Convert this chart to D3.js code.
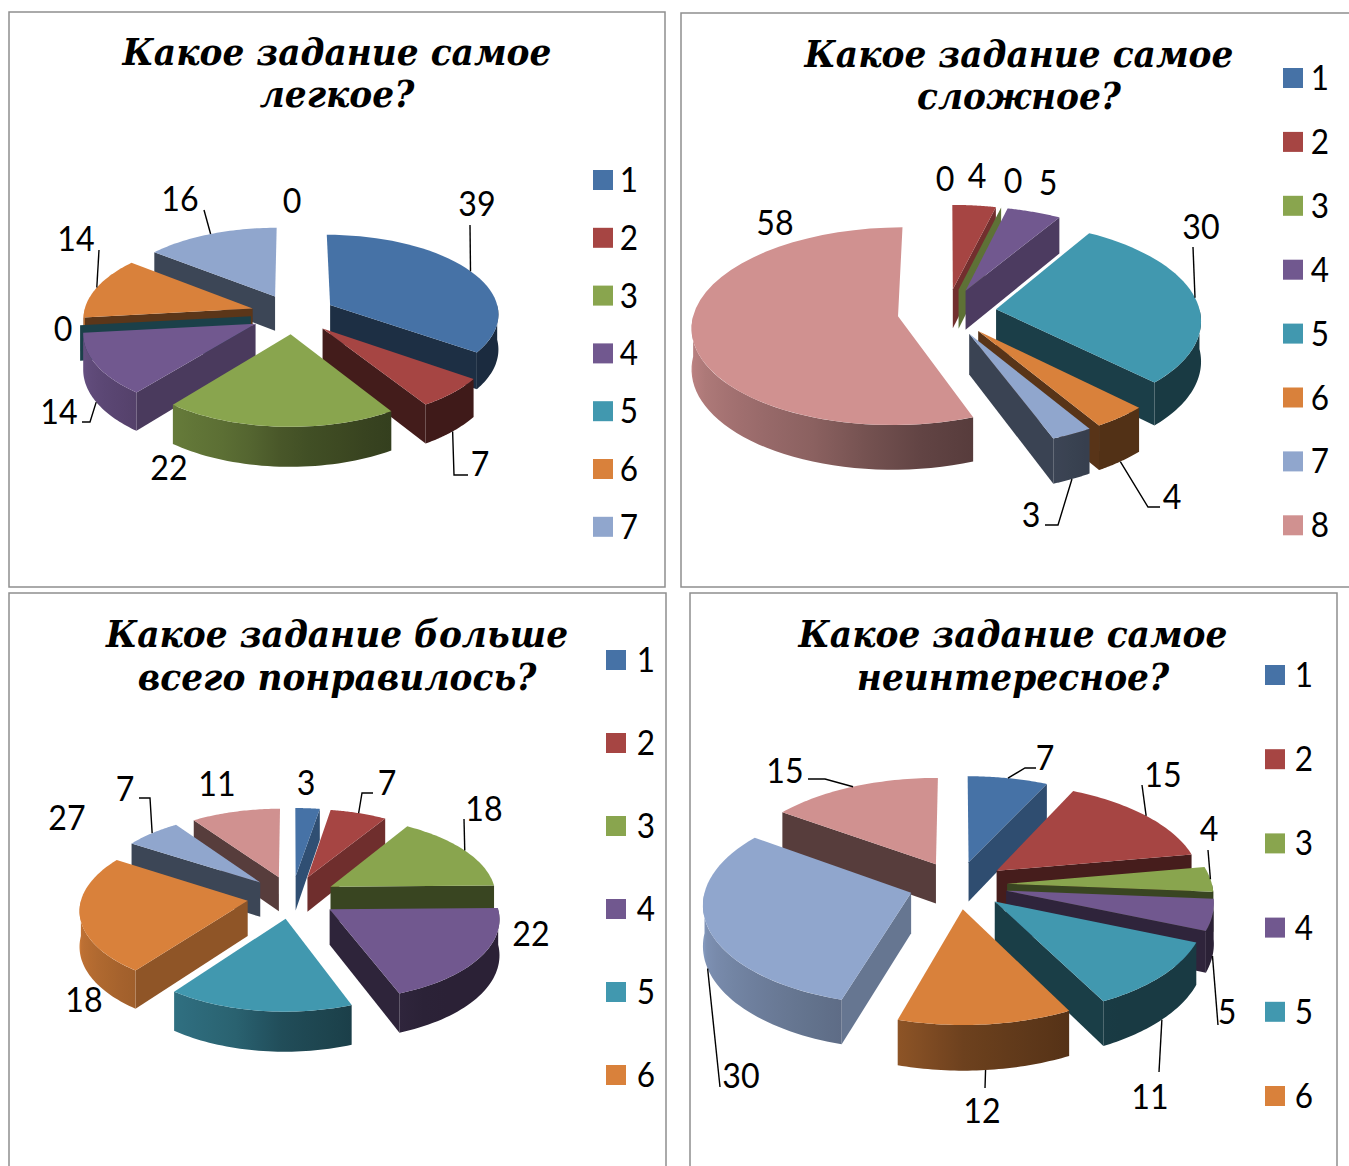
<!DOCTYPE html>
<html>
<head>
    <meta charset="utf-8">
    <title>Какое задание</title>
    <script src="https://d3js.org/d3.v7.min.js"></script>
    <style type="text/css">
        body { margin: 0; background: #fff; }
        .title { font-family: "DejaVu Serif", serif; font-weight: bold; font-style: italic; font-size: 37px; fill: #000; }
        .lab { font-family: Lato, sans-serif; font-size: 35px; fill: #000; }
        .frame { fill: none; stroke: #8e8e8e; stroke-width: 1.5; }
        .leader { fill: none; stroke: #000; stroke-width: 1.4; }
    </style>
</head>
<body>
<script>
    const colors = ["#4672A6", "#A64543", "#89A54E", "#71588F", "#4198AF", "#D9813B", "#90A6CD", "#D09190"]

    // values, in slice order clockwise from the top
    const easiestValues = [39, 7, 22, 14, 0, 14, 16, 0]
    const hardestValues = [0, 4, 0, 5, 30, 4, 3, 58]
    const likedValues = [3, 7, 18, 22, 18, 27, 7, 11]
    const boringValues = [7, 15, 4, 5, 11, 12, 30, 15]

    const easiestTitle = ["Какое задание самое", "легкое?"]
    const hardestTitle = ["Какое задание самое", "сложное?"]
    const likedTitle = ["Какое задание больше", "всего понравилось?"]
    const boringTitle = ["Какое задание самое", "неинтересное?"]

    const easiestLegend = ["1", "2", "3", "4", "5", "6", "7"]
    const hardestLegend = ["1", "2", "3", "4", "5", "6", "7", "8"]
    const likedLegend = ["1", "2", "3", "4", "5", "6"]
    const boringLegend = ["1", "2", "3", "4", "5", "6"]

    // layout only from here on
    const panels = [
        {
            values: easiestValues, title: easiestTitle, legend: easiestLegend,
            frame: [9, 12, 656, 575], cx: 293, cy: 314, rx: 169, ry: 79, depth: 35, explode: 0.25,
            titleX: 337, titleY: [65, 107],
            legendX: 593, legendY: 180, legendStep: 57.8, legendGap: 36,
            labels: [[477, 203], [480, 463], [169, 467], [59, 411], [63, 328], [76, 238], [180, 198], [292, 200]],
            elbows: [[[470, 225]], [[454, 475], [468, 475]], null, [[90, 422], [82, 422]], null, [[99, 250]], [[204, 210]], null]
        },
        {
            values: hardestValues, title: hardestTitle, legend: hardestLegend,
            frame: [681, 13, 672, 574], cx: 947, cy: 312, rx: 204, ry: 97, depth: 40, explode: 0.243,
            titleX: 1019, titleY: [67, 109],
            legendX: 1283, legendY: 78, legendStep: 63.9, legendGap: 37,
            labels: [[945, 178], [977, 175], [1013, 180], [1048, 182], [1201, 226], [1172, 496], [1031, 514], [775, 222]],
            elbows: [null, null, null, null, [[1193, 247]], [[1148, 507], [1160, 507]], [[1058, 525], [1045, 525]], null]
        },
        {
            values: likedValues, title: likedTitle, legend: likedLegend,
            frame: [9, 593, 657, 590], cx: 292, cy: 897, rx: 166, ry: 79, depth: 35, explode: 0.27,
            titleX: 337, titleY: [647, 690],
            legendX: 606, legendY: 660, legendStep: 83, legendGap: 40,
            labels: [[306, 782], [387, 782], [484, 808], [531, 933], [84, 999], [67, 817], [125, 788], [217, 783]],
            elbows: [null, [[362, 793], [373, 793]], [[464, 819]], null, null, null, [[150, 798], [139, 798]], null]
        },
        {
            values: boringValues, title: boringTitle, legend: boringLegend,
            frame: [690, 593, 647, 590], cx: 958, cy: 885, rx: 205, ry: 99, depth: 40, explode: 0.24,
            titleX: 1013, titleY: [647, 690],
            legendX: 1265, legendY: 675, legendStep: 84.2, legendGap: 39,
            labels: [[1045, 757], [1163, 774], [1209, 828], [1227, 1011], [1150, 1096], [982, 1110], [741, 1075], [785, 770]],
            elbows: [[[1025, 768], [1036, 768]], [[1142, 785]], [[1208, 850]], [[1218, 1025]], [[1159, 1072]], [[985, 1088]], [[720, 1087]], [[825, 779], [808, 779]]]
        }
    ]

    const perspective = 0.1
    const deg = Math.PI / 180
    const tau = 2 * Math.PI

    // how much light a wall gets, by the angle it faces
    const outerLight = d3.scaleLinear().domain([90, 150, 180, 196, 220, 260, 270]).range([.38, .38, .5, .65, .75, .9, .92])
    const startLight = d3.scaleLinear().domain([180, 220, 263, 360]).range([.75, .65, .42, .42])
    const endLight = d3.scaleLinear().domain([0, 32, 80, 180]).range([.7, .67, .42, .4])

    function shade(c, f) {
        let r = d3.rgb(c)
        return d3.rgb(r.r * f, r.g * f, r.b * f).formatHex()
    }

    let svg = d3.select("body").append("svg").attr("width", 1349).attr("height", 1166).style("display", "block")
    let defs = svg.append("defs")
    let line = d3.line()
    let pie = d3.pie().sort(null).startAngle(0).endAngle(tau)

    function putText(g, cls, x, y, txt, sx) {
        return g.append("text").attr("class", cls)
            .attr("text-anchor", "middle")
            .attr("transform", `translate(${x},${y}) scale(${sx},1)`)
            .text(txt)
    }

    panels.forEach((p, pi) => {
        let g = svg.append("g").attr("id", "chart" + pi)

        g.append("rect").attr("class", "frame")
            .attr("x", p.frame[0]).attr("y", p.frame[1]).attr("width", p.frame[2]).attr("height", p.frame[3])

        p.title.forEach((t, i) => putText(g, "title", p.titleX, p.titleY[i], t, 0.93))

        // disc coordinates: u to the right, v towards the viewer
        let project = (u, v, z) => {
            let s = 1 / (1 - perspective * v)
            return [p.cx + p.rx * u * s, p.cy + p.ry * v * s + p.depth * z * s]
        }

        let slices = pie(p.values).map((d, i) => {
            let mid = (d.startAngle + d.endAngle) / 2
            let tip = [p.explode * Math.sin(mid), -p.explode * Math.cos(mid)]
            return { i, a0: d.startAngle, a1: d.endAngle, mid, tip, value: d.value }
        })

        let rim = (s, a, z) => project(s.tip[0] + Math.sin(a), s.tip[1] - Math.cos(a), z)
        let apex = (s, z) => project(s.tip[0], s.tip[1], z)
        let arc = (s, from, to, z) => d3.range(0, 41).map(k => rim(s, from + (to - from) * k / 40, z))

        let order = slices.slice().sort((a, b) => a.tip[1] - b.tip[1])

        order.forEach(s => {
            let c = colors[s.i]
            let sg = g.append("g")
            let wall = (a, light) => sg.append("path")
                .attr("d", line([apex(s, 0), rim(s, a, 0), rim(s, a, 1), apex(s, 1)]) + "Z")
                .attr("fill", shade(c, light))

            if (Math.sin(s.a0) < -0.01) wall(s.a0, startLight(s.a0 / deg))
            if (Math.sin(s.a1) > 0.01) wall(s.a1, endLight(s.a1 / deg))

            // outer wall, only the part that faces the viewer
            let from = Math.max(s.a0, 90 * deg), to = Math.min(s.a1, 270 * deg)
            if (to > from) {
                let x1 = rim(s, to, 0)[0], x2 = rim(s, from, 0)[0]
                let id = `wall${pi}_${s.i}`
                let grad = defs.append("linearGradient").attr("id", id)
                    .attr("gradientUnits", "userSpaceOnUse")
                    .attr("x1", x1).attr("x2", x2).attr("y1", 0).attr("y2", 0)
                d3.range(0, 9).forEach(k => {
                    let a = to + (from - to) * k / 8
                    grad.append("stop")
                        .attr("offset", (rim(s, a, 0)[0] - x1) / (x2 - x1))
                        .attr("stop-color", shade(c, outerLight(a / deg)))
                })
                let pts = arc(s, from, to, 0).concat(arc(s, to, from, 1))
                sg.append("path").attr("d", line(pts) + "Z").attr("fill", `url(#${id})`)
            }

            if (s.value > 0) {
                let pts = [apex(s, 0)].concat(arc(s, s.a0, s.a1, 0))
                sg.append("path").attr("d", line(pts) + "Z").attr("fill", c)
            }
        })

        // leaders start on the rim (bottom of the wall when it faces us)
        slices.forEach(s => {
            let el = p.elbows[s.i]
            if (el) {
                let front = -Math.cos(s.mid) > 0.05
                g.append("path").attr("class", "leader").attr("d", line([rim(s, s.mid, front ? 1 : 0)].concat(el)))
            }
            let lp = p.labels[s.i]
            putText(g, "lab", lp[0], lp[1] + 13, p.values[s.i], 0.92)
        })

        p.legend.forEach((t, i) => {
            let y = p.legendY + i * p.legendStep
            g.append("rect").attr("x", p.legendX).attr("y", y - 10).attr("width", 20).attr("height", 20).attr("fill", colors[i])
            putText(g, "lab", p.legendX + p.legendGap, y + 12, t, 0.9)
        })
    })
</script>
</body>
</html>
